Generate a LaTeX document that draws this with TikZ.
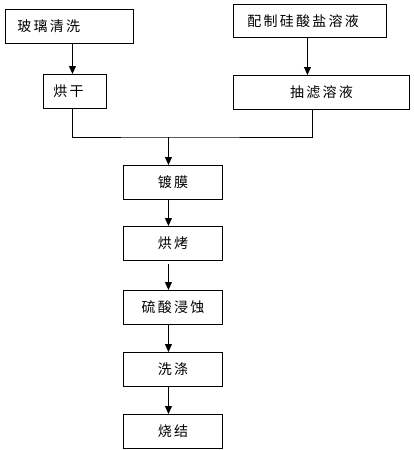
\documentclass[tikz,border=0pt]{standalone}
\usepackage{fontspec}
\newfontfamily\cjk[LetterSpace=16]{Noto Sans CJK SC}
\usepackage{tikz}
\usetikzlibrary{arrows.meta, calc}

\begin{document}
\begin{tikzpicture}[
    x=1pt, y=-1pt,
    every node/.style={font=\cjk\fontsize{14}{16}\selectfont},
    box/.style={draw, line width=0.9pt, anchor=north west, minimum height=34pt, inner xsep=0pt, inner ysep=0pt},
    lbox/.style={box, align=left, inner xsep=12pt},
    arr/.style={-{Triangle[length=8pt, width=7pt]}, line width=0.9pt}
]
    \useasboundingbox (0,0) rectangle (413,450);

    % Left branch
    \node[lbox, text width=104pt] (wash) at (5,9) {玻璃清洗};
    \node[lbox, inner xsep=10pt, text width=43pt] (dry) at (43,74) {烘干};

    % Right branch
    \node[lbox, inner xsep=14pt, text width=125pt, minimum height=33pt] (prep) at (233,4) {配制硅酸盐溶液};
    \node[box, minimum width=176pt] (filt) at (233,75) {抽滤溶液};

    % Main column
    \node[box, minimum width=99pt] (coat) at (123,165) {镀膜};
    \node[box, minimum width=99pt] (bake) at (123,226) {烘烤};
    \node[box, minimum width=99pt] (etch) at (123,290) {硫酸浸蚀};
    \node[box, minimum width=99pt] (rinse) at (123,352) {洗涤};
    \node[box, minimum width=99pt] (sinter) at (123,414) {烧结};

    % Connectors
    \draw[arr] ([xshift=3pt]wash.south) -- ([xshift=3pt]wash.south |- dry.north);
    \draw[arr] ([xshift=-2.5pt]prep.south) -- ([xshift=-2.5pt]prep.south |- filt.north);
    \coordinate (join) at ($(coat.north)+(-4.5,-28)$);
    \draw[line width=0.9pt] ([xshift=-2.5pt]dry.south) |- (join) -| ([xshift=-9pt]filt.south);
    \draw[arr] (join) -- ([xshift=-4.5pt]coat.north);
    \draw[arr] ([xshift=-4.5pt]coat.south) -- ([xshift=-4.5pt]bake.north);
    \draw[arr] ([xshift=-4.5pt,yshift=-3pt]bake.south) -- ([xshift=-4.5pt]etch.north);
    \draw[arr] ([xshift=-4.5pt]etch.south) -- ([xshift=-4.5pt]rinse.north);
    \draw[arr] ([xshift=-4.5pt]rinse.south) -- ([xshift=-4.5pt]sinter.north);
\end{tikzpicture}
\end{document}
